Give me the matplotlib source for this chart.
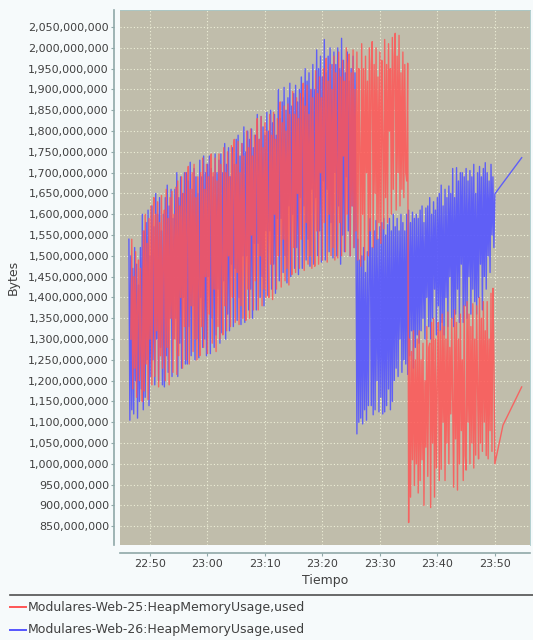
import matplotlib
matplotlib.use("Agg")
import matplotlib.pyplot as plt
import matplotlib.dates as mdates
from matplotlib.lines import Line2D
from matplotlib.ticker import FuncFormatter, MultipleLocator
import pandas as pd

# Heap usage samples (millions of bytes), one every 10 s, 12 per row = 2 min
red_start = "2023-01-01 22:46:40"
red_used = [
    1300, 1540, 1180, 1450, 1230, 1510, 1160, 1380, 1490, 1200, 1470, 1260,
    1150, 1560, 1175, 1600, 1240, 1530, 1155, 1590, 1300, 1620, 1190, 1570,
    1640, 1210, 1600, 1320, 1630, 1185, 1580, 1260, 1645, 1230, 1500, 1610,
    1200, 1660, 1280, 1590, 1190, 1640, 1350, 1655, 1220, 1600, 1300, 1665,
    1215, 1680, 1260, 1620, 1400, 1690, 1230, 1650, 1330, 1700, 1250, 1600,
    1715, 1240, 1660, 1380, 1700, 1270, 1720, 1300, 1640, 1250, 1690, 1420,
    1260, 1700, 1330, 1735, 1280, 1660, 1450, 1720, 1265, 1690, 1360, 1730,
    1745, 1290, 1700, 1420, 1735, 1270, 1680, 1330, 1745, 1300, 1720, 1480,
    1310, 1760, 1380, 1700, 1320, 1750, 1500, 1690, 1330, 1765, 1400, 1740,
    1780, 1340, 1720, 1460, 1775, 1335, 1700, 1380, 1770, 1350, 1740, 1520,
    1345, 1800, 1420, 1760, 1350, 1805, 1550, 1740, 1370, 1790, 1440, 1770,
    1830, 1370, 1780, 1500, 1835, 1380, 1760, 1420, 1820, 1400, 1800, 1560,
    1400, 1840, 1480, 1790, 1395, 1845, 1600, 1780, 1420, 1830, 1500, 1810,
    1870, 1425, 1820, 1540, 1860, 1440, 1800, 1470, 1865, 1430, 1840, 1620,
    1455, 1895, 1520, 1840, 1460, 1880, 1650, 1830, 1470, 1890, 1540, 1860,
    1915, 1465, 1860, 1580, 1910, 1480, 1840, 1500, 1900, 1470, 1880, 1660,
    1475, 1945, 1560, 1890, 1480, 1930, 1700, 1880, 1490, 1950, 1580, 1910,
    1975, 1485, 1920, 1600, 1960, 1500, 1900, 1520, 1980, 1490, 1940, 1720,
    1495, 1990, 1580, 1930, 1500, 1970, 1740, 1920, 1510, 2000, 1600, 1960,
    1985, 1500, 1940, 1620, 1995, 1520, 1900, 1560, 1990, 1490, 1950, 1760,
    1475, 2010, 1600, 1950, 1490, 1980, 1700, 1920, 1500, 2000, 1560, 1960,
    2015, 1520, 1960, 1650, 2000, 1540, 1930, 1580, 1990, 1530, 1970, 1780,
    1565, 2020, 1640, 1960, 1580, 2010, 1800, 1950, 1600, 2025, 1660, 1980,
    2035, 1610, 1980, 1700, 2030, 1620, 1940, 1660, 1990, 1640, 1960, 1700,
    1680, 1963, 859, 1300, 920, 1270, 1010, 1320, 948, 1250, 1000, 1300,
    930, 1320, 960, 1250, 1010, 1290, 900, 1200, 1040, 1330, 970, 1280,
    1290, 895, 1340, 1050, 1350, 920, 1300, 990, 1200, 1340, 960, 1320,
    987, 1360, 1100, 1330, 960, 1300, 1050, 1365, 1000, 1280, 1120, 1350,
    1150, 944, 1370, 1060, 1340, 937, 1300, 1000, 1360, 1080, 1250, 960,
    1380, 1020, 985, 1390, 1100, 1360, 1000, 1330, 1050, 1385, 990, 1300,
    1021, 1380, 1180, 1012, 1400, 1050, 1350, 1030, 1390, 1100, 1320, 1020,
    1390, 1012, 1300, 1080, 1410, 1030, 1422, 1250, 1000,
]
red_tail_times = ["2023-01-01 23:51:25", "2023-01-01 23:54:40"]
red_tail_used = [1093, 1185]

blue_start = "2023-01-01 22:46:20"
blue_used = [
    1540, 1105, 1500, 1130, 1470, 1120, 1520, 1200, 1480, 1110, 1430, 1150,
    1520, 1180, 1600, 1130, 1560, 1160, 1580, 1250, 1610, 1140, 1500, 1210,
    1620, 1250, 1570, 1190, 1650, 1300, 1600, 1200, 1640, 1280, 1560, 1190,
    1600, 1185, 1640, 1260, 1670, 1220, 1620, 1350, 1660, 1210, 1590, 1300,
    1660, 1350, 1700, 1210, 1640, 1290, 1690, 1230, 1650, 1400, 1700, 1240,
    1700, 1240, 1680, 1330, 1725, 1260, 1660, 1380, 1710, 1250, 1690, 1300,
    1650, 1255, 1730, 1400, 1690, 1280, 1740, 1300, 1700, 1260, 1720, 1450,
    1740, 1265, 1710, 1350, 1690, 1280, 1745, 1310, 1700, 1420, 1730, 1290,
    1745, 1315, 1700, 1440, 1770, 1300, 1720, 1360, 1760, 1320, 1690, 1480,
    1760, 1330, 1720, 1470, 1780, 1345, 1790, 1400, 1740, 1335, 1770, 1500,
    1810, 1340, 1750, 1500, 1800, 1370, 1780, 1420, 1805, 1350, 1760, 1530,
    1790, 1370, 1840, 1530, 1780, 1400, 1835, 1450, 1810, 1380, 1790, 1560,
    1845, 1405, 1800, 1560, 1850, 1420, 1820, 1480, 1840, 1410, 1790, 1590,
    1900, 1440, 1830, 1590, 1870, 1460, 1905, 1500, 1850, 1435, 1880, 1620,
    1915, 1450, 1860, 1600, 1890, 1470, 1910, 1520, 1870, 1455, 1900, 1640,
    1930, 1470, 1880, 1620, 1950, 1490, 1920, 1540, 1940, 1475, 1900, 1660,
    1960, 1480, 1900, 1640, 1995, 1500, 1950, 1560, 1980, 1485, 1930, 1680,
    2020, 1490, 1940, 1660, 1980, 1510, 2000, 1580, 1960, 1495, 1990, 1700,
    1960, 1500, 2000, 1620, 1950, 1480, 2023, 1550, 1970, 1510, 1940, 1690,
    1990, 1560, 1920, 1500, 1950, 1620, 1980, 1520, 1940, 1580, 1072, 1540,
    1100, 1490, 1110, 1500, 1096, 1520, 1130, 1460, 1105, 1510, 1140, 1480,
    1590, 1140, 1520, 1118, 1560, 1130, 1585, 1200, 1540, 1125, 1570, 1160,
    1580, 1120, 1590, 1125, 1550, 1140, 1575, 1180, 1590, 1130, 1560, 1150,
    1600, 1200, 1570, 1230, 1590, 1210, 1560, 1300, 1600, 1220, 1580, 1250,
    1560, 1240, 1600, 1215, 1610, 1260, 1580, 1320, 1605, 1230, 1590, 1280,
    1600, 1310, 1590, 1290, 1610, 1320, 1620, 1350, 1580, 1300, 1615, 1400,
    1620, 1330, 1640, 1300, 1600, 1350, 1630, 1420, 1610, 1310, 1640, 1380,
    1650, 1320, 1670, 1340, 1620, 1310, 1660, 1400, 1640, 1330, 1668, 1450,
    1650, 1350, 1710, 1330, 1640, 1360, 1712, 1420, 1680, 1340, 1700, 1480,
    1700, 1340, 1690, 1380, 1710, 1350, 1680, 1450, 1705, 1360, 1690, 1420,
    1720, 1390, 1650, 1360, 1700, 1400, 1715, 1480, 1690, 1370, 1710, 1450,
    1724, 1420, 1700, 1500, 1680, 1460, 1720, 1550, 1690, 1520, 1649,
]
blue_tail_times = ["2023-01-01 23:54:40"]
blue_tail_used = [1736]

series_names = [
    "Modulares-Web-25:HeapMemoryUsage,used",
    "Modulares-Web-26:HeapMemoryUsage,used",
]
series_colors = ["#ff5555", "#5555ff"]


def build_series(start, values, tail_times, tail_values):
    times = pd.date_range(start, periods=len(values), freq="10s")
    times = times.append(pd.DatetimeIndex(tail_times))
    used = [v * 1e6 for v in values + tail_values]
    return times, used


fig = plt.figure(figsize=(5.33, 6.4), dpi=100, facecolor="#f6fafb")
ax = fig.add_axes([120 / 533, 1 - 545 / 640, 410 / 533, 535 / 640])
ax.set_facecolor("#c0bdab")

red_t, red_v = build_series(red_start, red_used, red_tail_times, red_tail_used)
blue_t, blue_v = build_series(blue_start, blue_used, blue_tail_times, blue_tail_used)

ax.plot(blue_t, blue_v, color=series_colors[1], lw=1.0, alpha=0.9, zorder=3)
ax.plot(red_t, red_v, color=series_colors[0], lw=1.0, alpha=0.85, zorder=4)

ax.set_xlim(pd.Timestamp("2023-01-01 22:44:47"), pd.Timestamp("2023-01-01 23:56:07"))
ax.set_ylim(805e6, 2091e6)

ax.yaxis.set_major_locator(MultipleLocator(50e6))
ax.yaxis.set_major_formatter(FuncFormatter(lambda v, _: f"{v:,.0f}"))
ax.xaxis.set_major_locator(mdates.MinuteLocator(byminute=range(0, 60, 10)))
ax.xaxis.set_major_formatter(mdates.DateFormatter("%H:%M"))

ax.grid(True, color="#eef0d8", linestyle=(0, (1, 2)), linewidth=0.8, zorder=1)
ax.set_axisbelow(True)

for side in ("top", "right"):
    ax.spines[side].set_color("#a8c8c8")
    ax.spines[side].set_linewidth(0.6)
ax.spines["left"].set_position(("outward", 4))
ax.spines["bottom"].set_position(("outward", 6))
for side in ("left", "bottom"):
    ax.spines[side].set_color("#8fa8a8")
    ax.spines[side].set_linewidth(1.2)

ax.tick_params(axis="both", length=2, width=0.8, color="#8fa8a8",
               labelsize=8, labelcolor="#404040", pad=2)
ax.set_ylabel("Bytes", fontsize=9, color="#404040", labelpad=6)
ax.set_xlabel("Tiempo", fontsize=9, color="#404040", labelpad=4)

# legend block under a separator line
fig.add_artist(Line2D([10 / 533, 1.0], [1 - 595 / 640] * 2,
                      color="#505050", lw=1.2))
for i, (name, col) in enumerate(zip(series_names, series_colors)):
    y = 1 - (607 + 23 * i) / 640
    fig.add_artist(Line2D([10 / 533, 26 / 533], [y, y], color=col, lw=1.4))
    fig.text(28 / 533, y, name, fontsize=9, color="#404040", va="center")

fig.savefig("out.png", dpi=100, facecolor=fig.get_facecolor())
